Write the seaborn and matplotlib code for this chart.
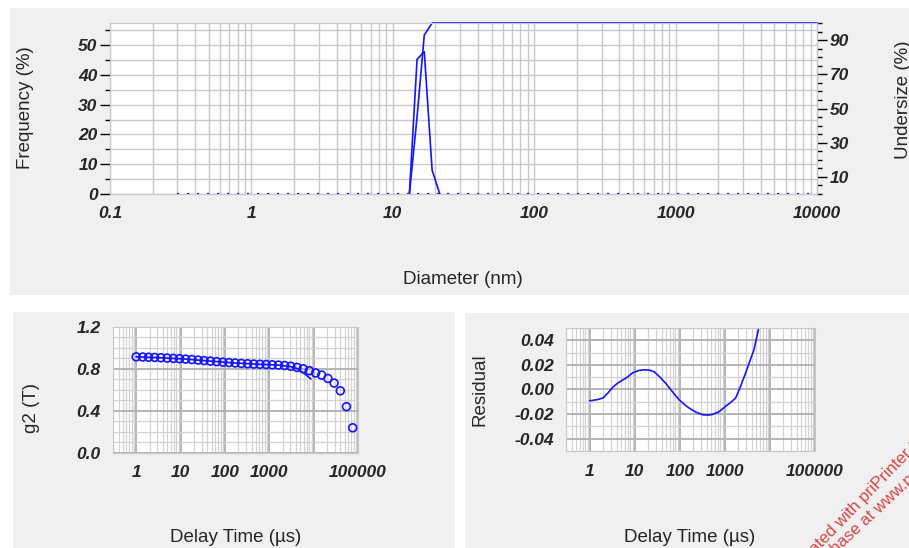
import matplotlib
matplotlib.use('Agg')
import matplotlib.pyplot as plt
import matplotlib.ticker as mticker
from matplotlib.patches import Rectangle
import seaborn as sns

# size distribution (diameter in nm)
diameter = [13.1, 14.85, 16.7, 18.97, 21.5]
frequency = [0, 45.2, 47.8, 8.0, 0]
undersize_diameter = [13.1, 14.85, 16.7, 18.97, 10000]
undersize = [0, 45.2, 93.0, 100, 100]
size_range = [0.3, 10000]
size_zero = [0, 0]

# correlation function (delay time in us)
delay_time = [1, 1.4, 1.9, 2.6, 3.6, 5, 6.9, 9.5, 13, 18, 25, 34, 47, 65, 90,
              124, 170, 235, 324, 447, 616, 849, 1170, 1610, 2220, 3060, 4220,
              5820, 8020, 11100, 15200, 21000, 29000, 40000, 55000, 76000]
g2 = [0.916, 0.914, 0.912, 0.910, 0.907, 0.904, 0.901, 0.898, 0.894, 0.890,
      0.885, 0.880, 0.875, 0.870, 0.865, 0.861, 0.857, 0.853, 0.850, 0.847,
      0.845, 0.843, 0.840, 0.837, 0.833, 0.826, 0.815, 0.802, 0.784, 0.762,
      0.742, 0.710, 0.666, 0.592, 0.441, 0.240]
fit_time = [1, 3.6, 13, 47, 170, 616, 1610, 3060, 4220, 5820, 8700]
g2_fit = [0.916, 0.907, 0.894, 0.875, 0.857, 0.845, 0.837, 0.822, 0.805, 0.765, 0.705]

# fit residuals
resid_time = [1, 1.5, 2, 2.6, 3.3, 4.2, 5.4, 7, 9, 12, 16, 21, 27, 36, 49,
              70, 97, 130, 160, 230, 320, 420, 530, 750, 1030, 1350, 1730,
              2200, 2870, 3500, 4400, 5650, 7000]
residual = [-0.0092, -0.0082, -0.0068, -0.0025, 0.002, 0.0052, 0.0077, 0.0102,
            0.0136, 0.0153, 0.016, 0.0158, 0.0144, 0.0102, 0.005, -0.0022,
            -0.0084, -0.0125, -0.015, -0.0185, -0.0205, -0.0208, -0.0203,
            -0.018, -0.0138, -0.0105, -0.007, 0.002, 0.0131, 0.022, 0.032,
            0.050, 0.075]

sns.set_style('white')
plt.rcParams['font.family'] = ['Liberation Sans', 'DejaVu Sans']

BLUE = '#1414ff'
BG = '#f0f0f0'
GRID = '#c8c8c8'
TICKFONT = dict(fontweight='bold', fontstyle='italic', fontsize=12.5)

fig = plt.figure(figsize=(9.09, 5.48), dpi=100)
for x0, y0, w, h in [(0.011, 0.4617, 0.989, 0.5237),
                     (0.0143, 0.0, 0.486, 0.4307),
                     (0.5116, 0.0, 0.4884, 0.4288)]:
    fig.patches.append(Rectangle((x0, y0), w, h, transform=fig.transFigure,
                                 facecolor=BG, edgecolor='none', zorder=-1))


def style(ax):
    for s in ax.spines.values():
        s.set_color(GRID)
    ax.tick_params(which='major', direction='out', length=7, width=1,
                   color='black', pad=2)
    ax.tick_params(which='minor', direction='out', length=3.5, width=1,
                   color='black')
    ax.set_facecolor('white')


def log_x(ax, ticks, labels):
    ax.set_xscale('log')
    ax.set_xticks(ticks, labels, **TICKFONT)
    ax.xaxis.set_minor_locator(mticker.LogLocator(base=10, subs=range(2, 10), numticks=30))
    ax.xaxis.set_minor_formatter(mticker.NullFormatter())


# ---- top: size distribution ----
ax = fig.add_axes([0.1210, 0.646, 0.7778, 0.312])
style(ax)
log_x(ax, [0.1, 1, 10, 100, 1000, 10000], ['0.1', '1', '10', '100', '1000', '10000'])
ax.grid(which='both', color=GRID, lw=1)
sns.lineplot(x=size_range, y=size_zero, ax=ax, color=BLUE, lw=1.6,
             linestyle=(0, (1, 3.5)), estimator=None, zorder=3)
sns.lineplot(x=diameter, y=frequency, ax=ax, color=BLUE, lw=1.2,
             estimator=None, sort=False, zorder=3)
ax.set_xlim(0.1, 10000)
ax.set_ylim(0, 57.4)
ax.set_yticks([0, 10, 20, 30, 40, 50], ['0', '10', '20', '30', '40', '50'], **TICKFONT)
ax.yaxis.set_minor_locator(mticker.MultipleLocator(5))
ax.set_xlabel('')
ax.set_ylabel('')

ax2 = ax.twinx()
style(ax2)
sns.lineplot(x=undersize_diameter, y=undersize, ax=ax2, color=BLUE, lw=1.2,
             estimator=None, sort=False, clip_on=False)
ax2.set_ylim(0, 100)
ax2.set_yticks([10, 30, 50, 70, 90], ['10', '30', '50', '70', '90'], **TICKFONT)
ax2.yaxis.set_minor_locator(mticker.MultipleLocator(5))
ax2.grid(False)
ax2.set_ylabel('')

fig.text(25 / 909, 1 - 108 / 548, 'Frequency (%)', rotation=90,
         ha='center', va='center', fontsize=13.5)
fig.text(904 / 909, 1 - 100 / 548, 'Undersize (%)', rotation=90,
         ha='center', va='center', fontsize=13.5)
fig.text(463 / 909, 1 - 280 / 548, 'Diameter (nm)', ha='center', va='center',
         fontsize=13.5)

# ---- bottom left: g2 ----
bx = fig.add_axes([0.1243, 0.1734, 0.2695, 0.2299])
style(bx)
log_x(bx, [1, 10, 100, 1000, 10000, 100000], ['1', '10', '100', '1000', '', '100000'])
bx.grid(which='minor', color='#d2d2d2', lw=0.9)
bx.grid(which='major', color='#b4b4b4', lw=1.4)
sns.lineplot(x=fit_time, y=g2_fit, ax=bx, color=BLUE, lw=1.2, estimator=None)
sns.scatterplot(x=delay_time, y=g2, ax=bx, marker='o', s=32, facecolor='none',
                edgecolor=BLUE, linewidth=1.2, zorder=3)
bx.set_xlim(0.3, 100000)
bx.set_ylim(0, 1.2)
bx.set_yticks([0, 0.4, 0.8, 1.2], ['0.0', '0.4', '0.8', '1.2'], **TICKFONT)
bx.yaxis.set_minor_locator(mticker.MultipleLocator(0.1))
bx.set_xlabel('')
bx.set_ylabel('')
fig.text(32 / 909, 1 - 408 / 548, 'g2 (T)', rotation=90, ha='center',
         va='center', fontsize=13.5)
fig.text(236 / 909, 1 - 537 / 548, 'Delay Time (µs)', ha='center',
         va='center', fontsize=13.5)

# ---- bottom right: residual ----
rx = fig.add_axes([0.6227, 0.177, 0.2739, 0.2245])
style(rx)
log_x(rx, [1, 10, 100, 1000, 10000, 100000], ['1', '10', '100', '1000', '', '100000'])
rx.grid(which='minor', color='#d2d2d2', lw=0.9)
rx.grid(which='major', color='#b4b4b4', lw=1.4)
sns.lineplot(x=resid_time, y=residual, ax=rx, color=BLUE, lw=1.2, estimator=None)
rx.set_xlim(0.3, 100000)
rx.set_ylim(-0.05, 0.05)
rx.set_yticks([-0.04, -0.02, 0, 0.02, 0.04],
              ['-0.04', '-0.02', '0.00', '0.02', '0.04'], **TICKFONT)
rx.yaxis.set_minor_locator(mticker.MultipleLocator(0.01))
rx.set_xlabel('')
rx.set_ylabel('')
fig.text(480 / 909, 1 - 390 / 548, 'Residual', rotation=90, ha='center',
         va='center', fontsize=13.5)
fig.text(690 / 909, 1 - 537 / 548, 'Delay Time (µs)', ha='center',
         va='center', fontsize=13.5)

# watermark
fig.text(797 / 909, 1 - 574 / 548, 'Created with priPrinter trial version',
         rotation=46, rotation_mode='anchor', ha='left', va='baseline',
         color='#d64545', fontsize=12)
fig.text(811 / 909, 1 - 578 / 548, 'Purchase at www.priprinter.com',
         rotation=43, rotation_mode='anchor', ha='left', va='baseline',
         color='#d64545', fontsize=12)

fig.savefig('out.png', dpi=100)
